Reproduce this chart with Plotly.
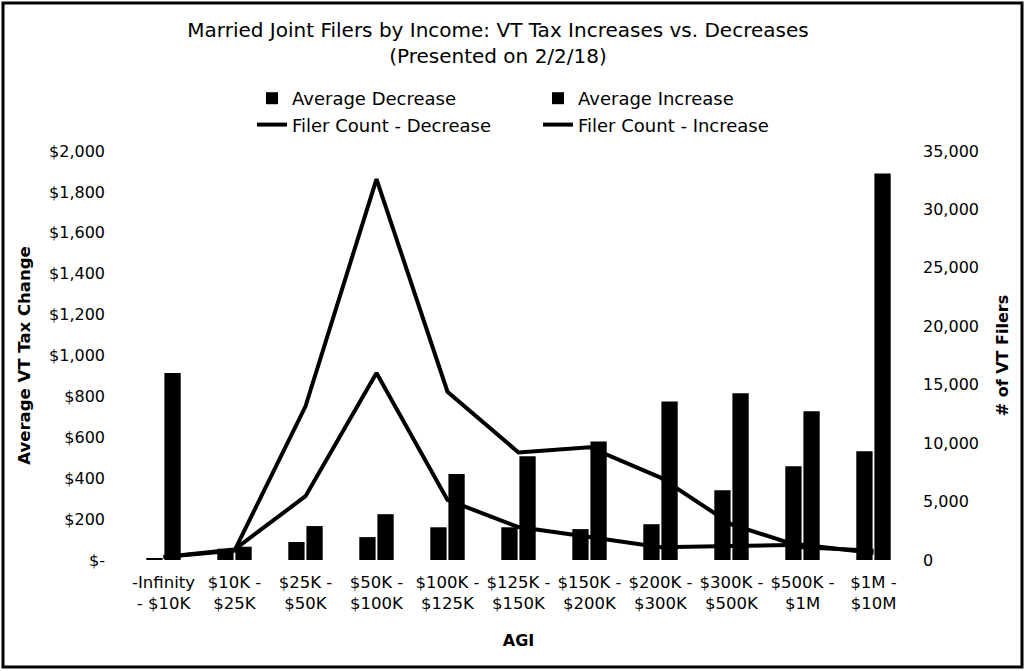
import plotly.graph_objects as go

categories = ["-Infinity<br>- $10K", "$10K -<br>$25K", "$25K -<br>$50K", "$50K -<br>$100K",
              "$100K -<br>$125K", "$125K -<br>$150K", "$150K -<br>$200K", "$200K -<br>$300K",
              "$300K -<br>$500K", "$500K -<br>$1M", "$1M -<br>$10M"]
avg_decrease = [5, 55, 88, 112, 160, 160, 151, 175, 341, 459, 532]
avg_increase = [915, 65, 166, 224, 420, 507, 580, 775, 815, 727, 1890]
count_decrease = [250, 800, 13150, 32600, 14400, 9200, 9650, 7050, 3050, 1100, 800]
count_increase = [250, 900, 5460, 16000, 5140, 2820, 1960, 1100, 1200, 1300, 600]

left_tickvals = [0, 200, 400, 600, 800, 1000, 1200, 1400, 1600, 1800, 2000]
left_ticktext = ["$-", "$200", "$400", "$600", "$800", "$1,000", "$1,200", "$1,400", "$1,600", "$1,800", "$2,000"]
right_tickvals = [0, 5000, 10000, 15000, 20000, 25000, 30000, 35000]
right_ticktext = ["0", "5,000", "10,000", "15,000", "20,000", "25,000", "30,000", "35,000"]

W, H = 1026, 671
ML, MR, MT, MB = 128, 117, 151, 111
PW, PH = W - ML - MR, H - MT - MB
FONT = "DejaVu Sans"

fig = go.Figure()
fig.add_trace(go.Bar(x=categories, y=avg_decrease, name="Average Decrease",
                     marker=dict(color="black", line=dict(width=0))))
fig.add_trace(go.Bar(x=categories, y=avg_increase, name="Average Increase",
                     marker=dict(color="black", line=dict(width=0))))
fig.add_trace(go.Scatter(x=categories, y=count_decrease, name="Filer Count - Decrease",
                         mode="lines", line=dict(color="black", width=4), yaxis="y2"))
fig.add_trace(go.Scatter(x=categories, y=count_increase, name="Filer Count - Increase",
                         mode="lines", line=dict(color="black", width=4), yaxis="y2"))

def px_x(p):
    return (p - ML) / PW

def px_y(p):
    return (H - MB - p) / PH

fig.update_layout(
    width=W, height=H,
    margin=dict(l=ML, r=MR, t=MT, b=MB),
    paper_bgcolor="white", plot_bgcolor="white",
    font=dict(family=FONT, size=16, color="black"),
    barmode="group", bargap=0.49, bargroupgap=0.1,
    title=dict(text="Married Joint Filers by Income: VT Tax Increases vs. Decreases<br>(Presented on 2/2/18)",
               x=498 / W, xanchor="center", y=1 - 37 / H, yanchor="top",
               font=dict(family=FONT, size=20, color="black")),
    legend=dict(orientation="h", x=px_x(252), xanchor="left", y=px_y(80), yanchor="top",
                entrywidth=241, font=dict(family=FONT, size=18, color="black"),
                bgcolor="rgba(0,0,0,0)", tracegroupgap=0),
    xaxis=dict(showgrid=False, showline=False, zeroline=False, ticks="",
               tickfont=dict(family=FONT, size=16.5), ticklabelstandoff=10,
               title=dict(text="<b>AGI</b>", font=dict(family=FONT, size=16), standoff=22)),
    yaxis=dict(range=[0, 2000], tickvals=left_tickvals, ticktext=left_ticktext,
               showgrid=False, showline=False, zeroline=False, ticks="",
               tickfont=dict(family=FONT, size=16), ticklabelstandoff=22,
               title=dict(text="<b>Average VT Tax Change</b>", font=dict(family=FONT, size=16.5), standoff=14)),
    yaxis2=dict(range=[0, 35000], tickvals=right_tickvals, ticktext=right_ticktext,
                overlaying="y", side="right", showgrid=False, showline=False, zeroline=False, ticks="",
                tickfont=dict(family=FONT, size=16), ticklabelstandoff=13,
                title=dict(text="<b># of VT Filers</b>", font=dict(family=FONT, size=16), standoff=18)),
    shapes=[dict(type="rect", xref="paper", yref="paper",
                 x0=px_x(3), x1=px_x(W - 4), y0=px_y(H - 4), y1=px_y(3),
                 line=dict(color="black", width=3), fillcolor="rgba(0,0,0,0)", layer="below")],
)

fig.write_html("out.html", config={"displayModeBar": False},
               post_script="document.body.style.margin='0';document.body.style.overflow='hidden';")
